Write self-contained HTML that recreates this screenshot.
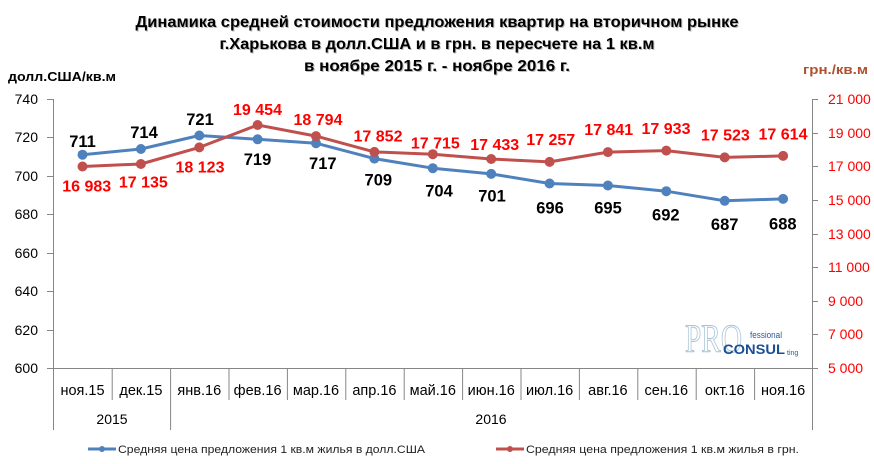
<!DOCTYPE html>
<html><head><meta charset="utf-8"><style>
html,body{margin:0;padding:0;background:#fff;}
svg{display:block;font-family:"Liberation Sans",sans-serif;}
</style></head><body>
<svg width="874" height="464" viewBox="0 0 874 464" xmlns="http://www.w3.org/2000/svg">
<rect width="874" height="464" fill="#fff"/>
<!-- Title -->
<g font-weight="bold" font-size="16" text-anchor="middle">
<g fill="#bbb" transform="translate(1,1)">
<text x="437" y="27" textLength="603" lengthAdjust="spacingAndGlyphs">Динамика средней стоимости предложения квартир на вторичном рынке</text>
<text x="437" y="49" textLength="435" lengthAdjust="spacingAndGlyphs">г.Харькова  в долл.США и в грн. в пересчете на 1 кв.м</text>
<text x="437" y="71" textLength="266" lengthAdjust="spacingAndGlyphs">в ноябре 2015 г. - ноябре 2016  г.</text>
</g>
<g fill="#000">
<text x="437" y="27" textLength="603" lengthAdjust="spacingAndGlyphs">Динамика средней стоимости предложения квартир на вторичном рынке</text>
<text x="437" y="49" textLength="435" lengthAdjust="spacingAndGlyphs">г.Харькова  в долл.США и в грн. в пересчете на 1 кв.м</text>
<text x="437" y="71" textLength="266" lengthAdjust="spacingAndGlyphs">в ноябре 2015 г. - ноябре 2016  г.</text>
</g>
</g>
<text x="8" y="81" font-weight="bold" font-size="13" textLength="108" lengthAdjust="spacingAndGlyphs" fill="#000">долл.США/кв.м</text>
<text x="803" y="74" font-weight="bold" font-size="13" textLength="65" lengthAdjust="spacingAndGlyphs" fill="#b0502f">грн./кв.м</text>

<!-- Axes -->
<g stroke="#868686" stroke-width="1" fill="none">
<line x1="53.5" y1="99" x2="53.5" y2="430"/>
<line x1="812.5" y1="99" x2="812.5" y2="430"/>
<line x1="47" y1="368.5" x2="812.5" y2="368.5"/>
<line x1="47" y1="99.5" x2="53" y2="99.5"/>
<line x1="47" y1="137.5" x2="53" y2="137.5"/>
<line x1="47" y1="176.5" x2="53" y2="176.5"/>
<line x1="47" y1="214.5" x2="53" y2="214.5"/>
<line x1="47" y1="253.5" x2="53" y2="253.5"/>
<line x1="47" y1="291.5" x2="53" y2="291.5"/>
<line x1="47" y1="330.5" x2="53" y2="330.5"/>
<line x1="812" y1="99.5" x2="818" y2="99.5"/>
<line x1="812" y1="133.5" x2="818" y2="133.5"/>
<line x1="812" y1="166.5" x2="818" y2="166.5"/>
<line x1="812" y1="200.5" x2="818" y2="200.5"/>
<line x1="812" y1="234.5" x2="818" y2="234.5"/>
<line x1="812" y1="267.5" x2="818" y2="267.5"/>
<line x1="812" y1="301.5" x2="818" y2="301.5"/>
<line x1="812" y1="334.5" x2="818" y2="334.5"/>
<line x1="812" y1="368.5" x2="818" y2="368.5"/>
<line x1="112.2" y1="368" x2="112.2" y2="400"/>
<line x1="170.6" y1="368" x2="170.6" y2="430"/>
<line x1="229" y1="368" x2="229" y2="400"/>
<line x1="287.4" y1="368" x2="287.4" y2="400"/>
<line x1="345.8" y1="368" x2="345.8" y2="400"/>
<line x1="404.2" y1="368" x2="404.2" y2="400"/>
<line x1="462.6" y1="368" x2="462.6" y2="400"/>
<line x1="521" y1="368" x2="521" y2="400"/>
<line x1="579.4" y1="368" x2="579.4" y2="400"/>
<line x1="637.8" y1="368" x2="637.8" y2="400"/>
<line x1="696.2" y1="368" x2="696.2" y2="400"/>
<line x1="754.6" y1="368" x2="754.6" y2="400"/>
</g>

<!-- left tick labels -->
<g font-size="14" fill="#000" text-anchor="end">
<text x="38" y="104">740</text>
<text x="38" y="142">720</text>
<text x="38" y="181">700</text>
<text x="38" y="219">680</text>
<text x="38" y="258">660</text>
<text x="38" y="296">640</text>
<text x="38" y="335">620</text>
<text x="38" y="373">600</text>
</g>
<!-- right tick labels -->
<g font-size="14" fill="#ff0000">
<text x="828" y="104">21 000</text>
<text x="828" y="138">19 000</text>
<text x="828" y="171">17 000</text>
<text x="828" y="205">15 000</text>
<text x="828" y="239">13 000</text>
<text x="828" y="272">11 000</text>
<text x="828" y="306">9 000</text>
<text x="828" y="339">7 000</text>
<text x="828" y="373">5 000</text>
</g>

<!-- month labels -->
<g font-size="14.5" fill="#000" text-anchor="middle">
<text x="82.5" y="395">ноя.15</text>
<text x="140.9" y="395">дек.15</text>
<text x="199.3" y="395">янв.16</text>
<text x="257.6" y="395">фев.16</text>
<text x="316" y="395">мар.16</text>
<text x="374.4" y="395">апр.16</text>
<text x="432.8" y="395">май.16</text>
<text x="491.2" y="395">июн.16</text>
<text x="549.6" y="395">июл.16</text>
<text x="607.9" y="395">авг.16</text>
<text x="666.3" y="395">сен.16</text>
<text x="724.7" y="395">окт.16</text>
<text x="783.1" y="395">ноя.16</text>
</g>
<g font-size="14" fill="#000" text-anchor="middle">
<text x="112" y="424">2015</text>
<text x="491" y="424">2016</text>
</g>

<!-- Logo -->
<g>
<text x="685" y="352" font-family="Liberation Serif,serif" font-size="40" fill="none" stroke="#a9c4d6" stroke-width="1" textLength="57" lengthAdjust="spacingAndGlyphs">PRO</text>
<text x="750" y="338" font-size="9" fill="#2a5a9a" textLength="32" lengthAdjust="spacingAndGlyphs">fessional</text>
<text x="723" y="354" font-size="14" font-weight="bold" fill="#1b4f94" textLength="62" lengthAdjust="spacingAndGlyphs">CONSUL</text>
<text x="787" y="355" font-size="7" fill="#2a5a9a">ting</text>
</g>

<!-- Blue series -->
<polyline fill="none" stroke="#4f81bd" stroke-width="3" stroke-linejoin="round" points="82.5,154.7 140.9,149 199.3,135.5 257.6,139.3 316,143.2 374.4,158.6 432.8,168.2 491.2,173.9 549.6,183.5 607.9,185.5 666.3,191.2 724.7,200.8 783.1,198.9"/>
<g fill="#4f81bd">
<circle cx="82.5" cy="154.7" r="5"/><circle cx="140.9" cy="149" r="5"/><circle cx="199.3" cy="135.5" r="5"/><circle cx="257.6" cy="139.3" r="5"/><circle cx="316" cy="143.2" r="5"/><circle cx="374.4" cy="158.6" r="5"/><circle cx="432.8" cy="168.2" r="5"/><circle cx="491.2" cy="173.9" r="5"/><circle cx="549.6" cy="183.5" r="5"/><circle cx="607.9" cy="185.5" r="5"/><circle cx="666.3" cy="191.2" r="5"/><circle cx="724.7" cy="200.8" r="5"/><circle cx="783.1" cy="198.9" r="5"/>
</g>
<!-- Red series -->
<polyline fill="none" stroke="#c0504d" stroke-width="3" stroke-linejoin="round" points="82.5,166.5 140.9,164 199.3,147.4 257.6,125 316,136.1 374.4,151.9 432.8,154.2 491.2,159 549.6,161.9 607.9,152.1 666.3,150.6 724.7,157.4 783.1,155.9"/>
<g fill="#c0504d">
<circle cx="82.5" cy="166.5" r="5"/><circle cx="140.9" cy="164" r="5"/><circle cx="199.3" cy="147.4" r="5"/><circle cx="257.6" cy="125" r="5"/><circle cx="316" cy="136.1" r="5"/><circle cx="374.4" cy="151.9" r="5"/><circle cx="432.8" cy="154.2" r="5"/><circle cx="491.2" cy="159" r="5"/><circle cx="549.6" cy="161.9" r="5"/><circle cx="607.9" cy="152.1" r="5"/><circle cx="666.3" cy="150.6" r="5"/><circle cx="724.7" cy="157.4" r="5"/><circle cx="783.1" cy="155.9" r="5"/>
</g>

<!-- Blue labels -->
<g font-size="16.5" font-weight="bold" fill="#000" text-anchor="middle">
<text x="82.5" y="147">711</text>
<text x="144" y="138">714</text>
<text x="200" y="125">721</text>
<text x="257.5" y="165">719</text>
<text x="322.8" y="169">717</text>
<text x="378.3" y="185.7">709</text>
<text x="439" y="196.7">704</text>
<text x="492" y="201.7">701</text>
<text x="550" y="213.3">696</text>
<text x="608" y="213.3">695</text>
<text x="665.8" y="220.7">692</text>
<text x="724.7" y="230">687</text>
<text x="782.8" y="229.3">688</text>
</g>
<!-- Red labels -->
<g font-size="16" font-weight="bold" fill="#ff0000" text-anchor="middle">
<text x="86.7" y="191.7">16 983</text>
<text x="143.3" y="187.3">17 135</text>
<text x="200" y="172.7">18 123</text>
<text x="257.5" y="115">19 454</text>
<text x="318" y="125">18 794</text>
<text x="378" y="141.7">17 852</text>
<text x="435.3" y="148.3">17 715</text>
<text x="494.7" y="150">17 433</text>
<text x="550.7" y="145">17 257</text>
<text x="608.7" y="135">17 841</text>
<text x="666" y="134">17 933</text>
<text x="725.3" y="140.7">17 523</text>
<text x="783" y="139.3">17 614</text>
</g>

<!-- Legend -->
<line x1="88" y1="449" x2="116" y2="449" stroke="#4f81bd" stroke-width="3"/>
<circle cx="102" cy="449" r="3" fill="#4f81bd"/>
<text x="118" y="453" font-size="11" fill="#222" textLength="307" lengthAdjust="spacingAndGlyphs">Средняя  цена  предложения  1 кв.м  жилья  в долл.США</text>
<line x1="496" y1="449" x2="524" y2="449" stroke="#c0504d" stroke-width="3"/>
<circle cx="510" cy="449" r="3" fill="#c0504d"/>
<text x="526" y="453" font-size="11" fill="#222" textLength="273" lengthAdjust="spacingAndGlyphs">Средняя  цена  предложения  1 кв.м  жилья  в грн.</text>
</svg>
</body></html>
